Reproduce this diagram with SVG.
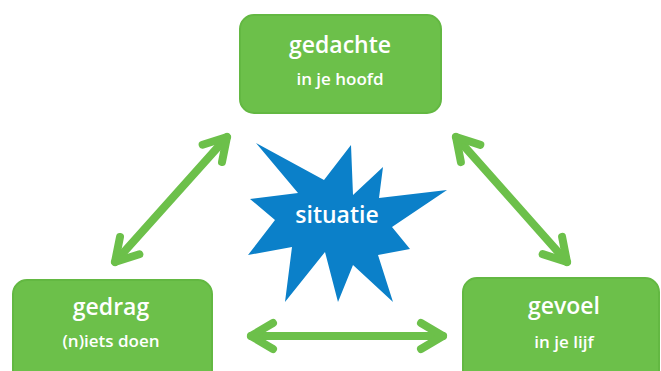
<svg xmlns="http://www.w3.org/2000/svg" width="661" height="371" viewBox="0 0 661 371">
<style>
.box{fill:#6cc04a;stroke:#63b842;stroke-width:2}
.t1{font-family:"Open Sans","Liberation Sans",sans-serif;font-weight:600;font-size:23px;fill:#ffffff;text-anchor:middle}
.t2{font-family:"Open Sans","Liberation Sans",sans-serif;font-weight:600;font-size:17px;fill:#ffffff;text-anchor:middle}
.arr{fill:none;stroke:#6cc04a;stroke-width:8;stroke-linecap:round;marker-start:url(#head);marker-end:url(#head)}
</style>
<defs>
<marker id="head" markerUnits="userSpaceOnUse" orient="auto-start-reverse" refX="0" refY="0" markerWidth="40" markerHeight="40" viewBox="-30 -20 40 40" overflow="visible">
<path d="M-22,-13 L0,0 L-22,13" fill="none" stroke="#6cc04a" stroke-width="8" stroke-linecap="round" stroke-linejoin="round"/>
</marker>
</defs>
<rect width="661" height="371" fill="#ffffff"/>
<g id="connectors">
<path class="arr" d="M115,262 L227,137"/>
<path class="arr" d="M456,137 L567,262"/>
<path class="arr" d="M251,336 L443,336"/>
</g>
<g id="situatie">
<polygon fill="#0b80c9" points="256,143 324,180 351,145 353,195 383,167 379,198 447,190 392,227 410,249 378,255 393,302 353,265 338,302 325,252 285,302 292,247 248,255 275,220 250,199 298,193"/>
<text class="t1" x="337" y="223">situatie</text>
</g>
<g id="gedachte">
<rect class="box" x="240" y="15" width="201" height="98" rx="14"/>
<text class="t1" x="340" y="53">gedachte</text>
<text class="t2" x="340" y="85">in je hoofd</text>
</g>
<g id="gedrag">
<rect class="box" x="13" y="280" width="199" height="110" rx="14"/>
<text class="t1" x="111" y="315">gedrag</text>
<text class="t2" x="111" y="347">(n)iets doen</text>
</g>
<g id="gevoel">
<rect class="box" x="463" y="278" width="196" height="112" rx="14"/>
<text class="t1" x="564" y="314">gevoel</text>
<text class="t2" x="564" y="348">in je lijf</text>
</g>
</svg>
